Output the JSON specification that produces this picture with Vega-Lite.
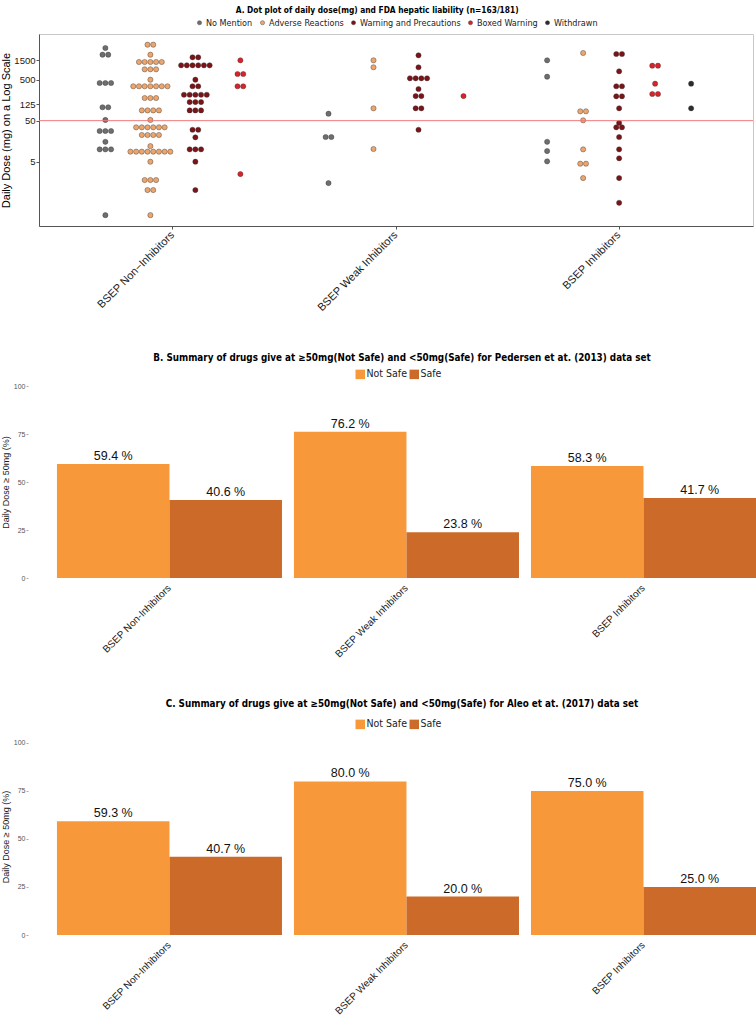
{
  "$schema": "https://vega.github.io/schema/vega-lite/v6.json",
  "padding": {"left": 0, "top": 5, "right": 0, "bottom": 0},
  "background": "white",
  "config": {
    "font": "Liberation Sans",
    "view": {"stroke": null},
    "axis": {"grid": false},
    "legend": {"layout": {"top": {"anchor": "middle"}}}
  },
  "columns": 1,
  "bounds": "flush",
  "spacing": 160,
  "resolve": {"scale": {"color": "independent", "xOffset": "independent", "x": "independent", "y": "independent"}},
  "datasets": {
    "dots": [
      {"bsep": "BSEP Non−Inhibitors", "liability": "No Mention", "dose": 2944},
      {"bsep": "BSEP Non−Inhibitors", "liability": "No Mention", "dose": 2020},
      {"bsep": "BSEP Non−Inhibitors", "liability": "No Mention", "dose": 2020},
      {"bsep": "BSEP Non−Inhibitors", "liability": "No Mention", "dose": 413},
      {"bsep": "BSEP Non−Inhibitors", "liability": "No Mention", "dose": 413},
      {"bsep": "BSEP Non−Inhibitors", "liability": "No Mention", "dose": 413},
      {"bsep": "BSEP Non−Inhibitors", "liability": "No Mention", "dose": 106},
      {"bsep": "BSEP Non−Inhibitors", "liability": "No Mention", "dose": 106},
      {"bsep": "BSEP Non−Inhibitors", "liability": "No Mention", "dose": 52},
      {"bsep": "BSEP Non−Inhibitors", "liability": "No Mention", "dose": 28},
      {"bsep": "BSEP Non−Inhibitors", "liability": "No Mention", "dose": 28},
      {"bsep": "BSEP Non−Inhibitors", "liability": "No Mention", "dose": 28},
      {"bsep": "BSEP Non−Inhibitors", "liability": "No Mention", "dose": 15.3},
      {"bsep": "BSEP Non−Inhibitors", "liability": "No Mention", "dose": 10},
      {"bsep": "BSEP Non−Inhibitors", "liability": "No Mention", "dose": 10},
      {"bsep": "BSEP Non−Inhibitors", "liability": "No Mention", "dose": 10},
      {"bsep": "BSEP Non−Inhibitors", "liability": "No Mention", "dose": 0.25},
      {"bsep": "BSEP Non−Inhibitors", "liability": "Adverse Reactions", "dose": 3540},
      {"bsep": "BSEP Non−Inhibitors", "liability": "Adverse Reactions", "dose": 3540},
      {"bsep": "BSEP Non−Inhibitors", "liability": "Adverse Reactions", "dose": 2020},
      {"bsep": "BSEP Non−Inhibitors", "liability": "Adverse Reactions", "dose": 1343},
      {"bsep": "BSEP Non−Inhibitors", "liability": "Adverse Reactions", "dose": 1343},
      {"bsep": "BSEP Non−Inhibitors", "liability": "Adverse Reactions", "dose": 1343},
      {"bsep": "BSEP Non−Inhibitors", "liability": "Adverse Reactions", "dose": 1343},
      {"bsep": "BSEP Non−Inhibitors", "liability": "Adverse Reactions", "dose": 1343},
      {"bsep": "BSEP Non−Inhibitors", "liability": "Adverse Reactions", "dose": 891},
      {"bsep": "BSEP Non−Inhibitors", "liability": "Adverse Reactions", "dose": 891},
      {"bsep": "BSEP Non−Inhibitors", "liability": "Adverse Reactions", "dose": 891},
      {"bsep": "BSEP Non−Inhibitors", "liability": "Adverse Reactions", "dose": 497},
      {"bsep": "BSEP Non−Inhibitors", "liability": "Adverse Reactions", "dose": 344},
      {"bsep": "BSEP Non−Inhibitors", "liability": "Adverse Reactions", "dose": 344},
      {"bsep": "BSEP Non−Inhibitors", "liability": "Adverse Reactions", "dose": 344},
      {"bsep": "BSEP Non−Inhibitors", "liability": "Adverse Reactions", "dose": 344},
      {"bsep": "BSEP Non−Inhibitors", "liability": "Adverse Reactions", "dose": 344},
      {"bsep": "BSEP Non−Inhibitors", "liability": "Adverse Reactions", "dose": 344},
      {"bsep": "BSEP Non−Inhibitors", "liability": "Adverse Reactions", "dose": 344},
      {"bsep": "BSEP Non−Inhibitors", "liability": "Adverse Reactions", "dose": 178},
      {"bsep": "BSEP Non−Inhibitors", "liability": "Adverse Reactions", "dose": 178},
      {"bsep": "BSEP Non−Inhibitors", "liability": "Adverse Reactions", "dose": 178},
      {"bsep": "BSEP Non−Inhibitors", "liability": "Adverse Reactions", "dose": 89},
      {"bsep": "BSEP Non−Inhibitors", "liability": "Adverse Reactions", "dose": 89},
      {"bsep": "BSEP Non−Inhibitors", "liability": "Adverse Reactions", "dose": 89},
      {"bsep": "BSEP Non−Inhibitors", "liability": "Adverse Reactions", "dose": 89},
      {"bsep": "BSEP Non−Inhibitors", "liability": "Adverse Reactions", "dose": 52},
      {"bsep": "BSEP Non−Inhibitors", "liability": "Adverse Reactions", "dose": 34.4},
      {"bsep": "BSEP Non−Inhibitors", "liability": "Adverse Reactions", "dose": 34.4},
      {"bsep": "BSEP Non−Inhibitors", "liability": "Adverse Reactions", "dose": 34.4},
      {"bsep": "BSEP Non−Inhibitors", "liability": "Adverse Reactions", "dose": 34.4},
      {"bsep": "BSEP Non−Inhibitors", "liability": "Adverse Reactions", "dose": 34.4},
      {"bsep": "BSEP Non−Inhibitors", "liability": "Adverse Reactions", "dose": 34.4},
      {"bsep": "BSEP Non−Inhibitors", "liability": "Adverse Reactions", "dose": 22.4},
      {"bsep": "BSEP Non−Inhibitors", "liability": "Adverse Reactions", "dose": 22.4},
      {"bsep": "BSEP Non−Inhibitors", "liability": "Adverse Reactions", "dose": 22.4},
      {"bsep": "BSEP Non−Inhibitors", "liability": "Adverse Reactions", "dose": 22.4},
      {"bsep": "BSEP Non−Inhibitors", "liability": "Adverse Reactions", "dose": 12},
      {"bsep": "BSEP Non−Inhibitors", "liability": "Adverse Reactions", "dose": 8.8},
      {"bsep": "BSEP Non−Inhibitors", "liability": "Adverse Reactions", "dose": 8.8},
      {"bsep": "BSEP Non−Inhibitors", "liability": "Adverse Reactions", "dose": 8.8},
      {"bsep": "BSEP Non−Inhibitors", "liability": "Adverse Reactions", "dose": 8.8},
      {"bsep": "BSEP Non−Inhibitors", "liability": "Adverse Reactions", "dose": 8.8},
      {"bsep": "BSEP Non−Inhibitors", "liability": "Adverse Reactions", "dose": 8.8},
      {"bsep": "BSEP Non−Inhibitors", "liability": "Adverse Reactions", "dose": 8.8},
      {"bsep": "BSEP Non−Inhibitors", "liability": "Adverse Reactions", "dose": 8.8},
      {"bsep": "BSEP Non−Inhibitors", "liability": "Adverse Reactions", "dose": 5},
      {"bsep": "BSEP Non−Inhibitors", "liability": "Adverse Reactions", "dose": 1.79},
      {"bsep": "BSEP Non−Inhibitors", "liability": "Adverse Reactions", "dose": 1.79},
      {"bsep": "BSEP Non−Inhibitors", "liability": "Adverse Reactions", "dose": 1.79},
      {"bsep": "BSEP Non−Inhibitors", "liability": "Adverse Reactions", "dose": 1.02},
      {"bsep": "BSEP Non−Inhibitors", "liability": "Adverse Reactions", "dose": 1.02},
      {"bsep": "BSEP Non−Inhibitors", "liability": "Adverse Reactions", "dose": 0.25},
      {"bsep": "BSEP Non−Inhibitors", "liability": "Warning and Precautions", "dose": 1747},
      {"bsep": "BSEP Non−Inhibitors", "liability": "Warning and Precautions", "dose": 1747},
      {"bsep": "BSEP Non−Inhibitors", "liability": "Warning and Precautions", "dose": 1115},
      {"bsep": "BSEP Non−Inhibitors", "liability": "Warning and Precautions", "dose": 1115},
      {"bsep": "BSEP Non−Inhibitors", "liability": "Warning and Precautions", "dose": 1115},
      {"bsep": "BSEP Non−Inhibitors", "liability": "Warning and Precautions", "dose": 1115},
      {"bsep": "BSEP Non−Inhibitors", "liability": "Warning and Precautions", "dose": 1115},
      {"bsep": "BSEP Non−Inhibitors", "liability": "Warning and Precautions", "dose": 1115},
      {"bsep": "BSEP Non−Inhibitors", "liability": "Warning and Precautions", "dose": 497},
      {"bsep": "BSEP Non−Inhibitors", "liability": "Warning and Precautions", "dose": 344},
      {"bsep": "BSEP Non−Inhibitors", "liability": "Warning and Precautions", "dose": 344},
      {"bsep": "BSEP Non−Inhibitors", "liability": "Warning and Precautions", "dose": 214},
      {"bsep": "BSEP Non−Inhibitors", "liability": "Warning and Precautions", "dose": 214},
      {"bsep": "BSEP Non−Inhibitors", "liability": "Warning and Precautions", "dose": 214},
      {"bsep": "BSEP Non−Inhibitors", "liability": "Warning and Precautions", "dose": 214},
      {"bsep": "BSEP Non−Inhibitors", "liability": "Warning and Precautions", "dose": 214},
      {"bsep": "BSEP Non−Inhibitors", "liability": "Warning and Precautions", "dose": 142},
      {"bsep": "BSEP Non−Inhibitors", "liability": "Warning and Precautions", "dose": 142},
      {"bsep": "BSEP Non−Inhibitors", "liability": "Warning and Precautions", "dose": 142},
      {"bsep": "BSEP Non−Inhibitors", "liability": "Warning and Precautions", "dose": 89},
      {"bsep": "BSEP Non−Inhibitors", "liability": "Warning and Precautions", "dose": 89},
      {"bsep": "BSEP Non−Inhibitors", "liability": "Warning and Precautions", "dose": 89},
      {"bsep": "BSEP Non−Inhibitors", "liability": "Warning and Precautions", "dose": 30},
      {"bsep": "BSEP Non−Inhibitors", "liability": "Warning and Precautions", "dose": 30},
      {"bsep": "BSEP Non−Inhibitors", "liability": "Warning and Precautions", "dose": 19.6},
      {"bsep": "BSEP Non−Inhibitors", "liability": "Warning and Precautions", "dose": 10},
      {"bsep": "BSEP Non−Inhibitors", "liability": "Warning and Precautions", "dose": 10},
      {"bsep": "BSEP Non−Inhibitors", "liability": "Warning and Precautions", "dose": 10},
      {"bsep": "BSEP Non−Inhibitors", "liability": "Warning and Precautions", "dose": 5},
      {"bsep": "BSEP Non−Inhibitors", "liability": "Warning and Precautions", "dose": 1.02},
      {"bsep": "BSEP Non−Inhibitors", "liability": "Boxed Warning", "dose": 1476},
      {"bsep": "BSEP Non−Inhibitors", "liability": "Boxed Warning", "dose": 685},
      {"bsep": "BSEP Non−Inhibitors", "liability": "Boxed Warning", "dose": 685},
      {"bsep": "BSEP Non−Inhibitors", "liability": "Boxed Warning", "dose": 344},
      {"bsep": "BSEP Non−Inhibitors", "liability": "Boxed Warning", "dose": 344},
      {"bsep": "BSEP Non−Inhibitors", "liability": "Boxed Warning", "dose": 2.5},
      {"bsep": "BSEP Weak Inhibitors", "liability": "No Mention", "dose": 73.8},
      {"bsep": "BSEP Weak Inhibitors", "liability": "No Mention", "dose": 20},
      {"bsep": "BSEP Weak Inhibitors", "liability": "No Mention", "dose": 20},
      {"bsep": "BSEP Weak Inhibitors", "liability": "No Mention", "dose": 1.51},
      {"bsep": "BSEP Weak Inhibitors", "liability": "Adverse Reactions", "dose": 1476},
      {"bsep": "BSEP Weak Inhibitors", "liability": "Adverse Reactions", "dose": 998},
      {"bsep": "BSEP Weak Inhibitors", "liability": "Adverse Reactions", "dose": 100},
      {"bsep": "BSEP Weak Inhibitors", "liability": "Adverse Reactions", "dose": 10.2},
      {"bsep": "BSEP Weak Inhibitors", "liability": "Warning and Precautions", "dose": 1955},
      {"bsep": "BSEP Weak Inhibitors", "liability": "Warning and Precautions", "dose": 998},
      {"bsep": "BSEP Weak Inhibitors", "liability": "Warning and Precautions", "dose": 538},
      {"bsep": "BSEP Weak Inhibitors", "liability": "Warning and Precautions", "dose": 538},
      {"bsep": "BSEP Weak Inhibitors", "liability": "Warning and Precautions", "dose": 538},
      {"bsep": "BSEP Weak Inhibitors", "liability": "Warning and Precautions", "dose": 538},
      {"bsep": "BSEP Weak Inhibitors", "liability": "Warning and Precautions", "dose": 295},
      {"bsep": "BSEP Weak Inhibitors", "liability": "Warning and Precautions", "dose": 199},
      {"bsep": "BSEP Weak Inhibitors", "liability": "Warning and Precautions", "dose": 199},
      {"bsep": "BSEP Weak Inhibitors", "liability": "Warning and Precautions", "dose": 100},
      {"bsep": "BSEP Weak Inhibitors", "liability": "Warning and Precautions", "dose": 100},
      {"bsep": "BSEP Weak Inhibitors", "liability": "Warning and Precautions", "dose": 30},
      {"bsep": "BSEP Weak Inhibitors", "liability": "Boxed Warning", "dose": 199},
      {"bsep": "BSEP Inhibitors", "liability": "No Mention", "dose": 1476},
      {"bsep": "BSEP Inhibitors", "liability": "No Mention", "dose": 588},
      {"bsep": "BSEP Inhibitors", "liability": "No Mention", "dose": 15.3},
      {"bsep": "BSEP Inhibitors", "liability": "No Mention", "dose": 9.1},
      {"bsep": "BSEP Inhibitors", "liability": "No Mention", "dose": 5.1},
      {"bsep": "BSEP Inhibitors", "liability": "Adverse Reactions", "dose": 2223},
      {"bsep": "BSEP Inhibitors", "liability": "Adverse Reactions", "dose": 84.5},
      {"bsep": "BSEP Inhibitors", "liability": "Adverse Reactions", "dose": 84.5},
      {"bsep": "BSEP Inhibitors", "liability": "Adverse Reactions", "dose": 51},
      {"bsep": "BSEP Inhibitors", "liability": "Adverse Reactions", "dose": 10},
      {"bsep": "BSEP Inhibitors", "liability": "Adverse Reactions", "dose": 4.47},
      {"bsep": "BSEP Inhibitors", "liability": "Adverse Reactions", "dose": 4.47},
      {"bsep": "BSEP Inhibitors", "liability": "Adverse Reactions", "dose": 2},
      {"bsep": "BSEP Inhibitors", "liability": "Warning and Precautions", "dose": 2102},
      {"bsep": "BSEP Inhibitors", "liability": "Warning and Precautions", "dose": 2102},
      {"bsep": "BSEP Inhibitors", "liability": "Warning and Precautions", "dose": 797},
      {"bsep": "BSEP Inhibitors", "liability": "Warning and Precautions", "dose": 344},
      {"bsep": "BSEP Inhibitors", "liability": "Warning and Precautions", "dose": 344},
      {"bsep": "BSEP Inhibitors", "liability": "Warning and Precautions", "dose": 196},
      {"bsep": "BSEP Inhibitors", "liability": "Warning and Precautions", "dose": 196},
      {"bsep": "BSEP Inhibitors", "liability": "Warning and Precautions", "dose": 100},
      {"bsep": "BSEP Inhibitors", "liability": "Warning and Precautions", "dose": 44},
      {"bsep": "BSEP Inhibitors", "liability": "Warning and Precautions", "dose": 34.4},
      {"bsep": "BSEP Inhibitors", "liability": "Warning and Precautions", "dose": 34.4},
      {"bsep": "BSEP Inhibitors", "liability": "Warning and Precautions", "dose": 20},
      {"bsep": "BSEP Inhibitors", "liability": "Warning and Precautions", "dose": 10},
      {"bsep": "BSEP Inhibitors", "liability": "Warning and Precautions", "dose": 6.05},
      {"bsep": "BSEP Inhibitors", "liability": "Warning and Precautions", "dose": 2},
      {"bsep": "BSEP Inhibitors", "liability": "Warning and Precautions", "dose": 0.5},
      {"bsep": "BSEP Inhibitors", "liability": "Boxed Warning", "dose": 1091},
      {"bsep": "BSEP Inhibitors", "liability": "Boxed Warning", "dose": 1091},
      {"bsep": "BSEP Inhibitors", "liability": "Boxed Warning", "dose": 397},
      {"bsep": "BSEP Inhibitors", "liability": "Boxed Warning", "dose": 223},
      {"bsep": "BSEP Inhibitors", "liability": "Boxed Warning", "dose": 223},
      {"bsep": "BSEP Inhibitors", "liability": "Withdrawn", "dose": 397},
      {"bsep": "BSEP Inhibitors", "liability": "Withdrawn", "dose": 100}
    ],
    "pedersen": [
      {"bsep": "BSEP Non-Inhibitors", "status": "Not Safe", "pct": 59.4},
      {"bsep": "BSEP Non-Inhibitors", "status": "Safe", "pct": 40.6},
      {"bsep": "BSEP Weak Inhibitors", "status": "Not Safe", "pct": 76.2},
      {"bsep": "BSEP Weak Inhibitors", "status": "Safe", "pct": 23.8},
      {"bsep": "BSEP Inhibitors", "status": "Not Safe", "pct": 58.3},
      {"bsep": "BSEP Inhibitors", "status": "Safe", "pct": 41.7}
    ],
    "aleo": [
      {"bsep": "BSEP Non-Inhibitors", "status": "Not Safe", "pct": 59.3},
      {"bsep": "BSEP Non-Inhibitors", "status": "Safe", "pct": 40.7},
      {"bsep": "BSEP Weak Inhibitors", "status": "Not Safe", "pct": 80.0},
      {"bsep": "BSEP Weak Inhibitors", "status": "Safe", "pct": 20.0},
      {"bsep": "BSEP Inhibitors", "status": "Not Safe", "pct": 75.0},
      {"bsep": "BSEP Inhibitors", "status": "Safe", "pct": 25.0}
    ]
  },
  "concat": [
    {
      "width": 714,
      "height": 192,
      "view": {"stroke": "#c8c8c8", "strokeWidth": 1},
      "title": {"text": "A. Dot plot of daily dose(mg) and FDA hepatic liability (n=163/181)", "font": "Liberation Sans Narrow, DejaVu Sans Condensed, sans-serif", "fontSize": 8.3, "fontWeight": "bold", "color": "#000", "anchor": "middle", "frame": "bounds", "offset": 4},
      "layer": [
        {
          "data": {"name": "dots"},
          "transform": [
            {"calculate": "indexof(['No Mention','Adverse Reactions','Warning and Precautions','Boxed Warning','Withdrawn'], datum.liability)", "as": "lidx"},
            {"window": [{"op": "dense_rank", "as": "gi"}], "groupby": ["bsep"], "sort": [{"field": "lidx"}]},
            {"joinaggregate": [{"op": "max", "field": "gi", "as": "ng"}], "groupby": ["bsep"]},
            {"window": [{"op": "row_number", "as": "ri"}, {"op": "count", "as": "rn"}], "groupby": ["bsep", "liability", "dose"], "frame": [null, null]},
            {"calculate": "(datum.gi - (datum.ng + 1) / 2) * 180 / datum.ng + (datum.ri - (datum.rn + 1) / 2) * 5.7", "as": "off"}
          ],
          "mark": {"type": "circle", "size": 27, "opacity": 1, "stroke": "#333333", "strokeWidth": 0.4},
          "encoding": {
            "x": {"field": "bsep", "type": "nominal", "sort": ["BSEP Non−Inhibitors", "BSEP Weak Inhibitors", "BSEP Inhibitors"],
                  "scale": {"paddingInner": 0, "paddingOuter": 0.1},
                  "axis": {"title": null, "labelAngle": -45, "labelBaseline": "middle", "labelFontSize": 11, "labelColor": "#1a1a1a", "tickSize": 3, "tickColor": "#555", "domainColor": "#555", "labelPadding": 4}},
            "xOffset": {"field": "off", "type": "quantitative", "scale": {"domain": [-111.5625, 111.5625], "range": [0, 223.125]}},
            "y": {"field": "dose", "type": "quantitative",
                  "scale": {"type": "log", "domain": [0.136, 6450], "nice": false},
                  "axis": {"title": "Daily Dose (mg) on a Log Scale", "values": [5, 50, 125, 500, 1500], "format": "d", "labelFontSize": 9.5, "labelColor": "#1a1a1a", "tickSize": 3, "tickColor": "#555", "domainColor": "#555", "labelPadding": 1, "titleFontSize": 11, "titleFontWeight": "normal", "titleColor": "#000", "titlePadding": 2}},
            "color": {"field": "liability", "type": "nominal",
                      "scale": {"domain": ["No Mention", "Adverse Reactions", "Warning and Precautions", "Boxed Warning", "Withdrawn"], "range": ["#6e6e6e", "#eea56c", "#7b1317", "#da2229", "#2c2c2c"]},
                      "legend": {"orient": "top", "direction": "horizontal", "title": null, "labelFont": "Liberation Sans Narrow, DejaVu Sans Condensed, sans-serif", "labelFontSize": 9, "labelColor": "#222", "symbolType": "circle", "symbolSize": 18, "symbolOpacity": 1, "symbolStrokeColor": "#333", "symbolStrokeWidth": 0.4, "columnPadding": 5, "labelOffset": 2, "offset": 6}}
          }
        },
        {
          "data": {"values": [{}]},
          "mark": {"type": "rule", "color": "#f07a7a", "strokeWidth": 1},
          "encoding": {"y": {"datum": 50, "type": "quantitative"}}
        }
      ]
    },
    {
      "width": 718,
      "height": 192,
      "title": {"text": "B. Summary of drugs give at ≥50mg(Not Safe) and <50mg(Safe) for Pedersen et at. (2013) data set", "font": "Liberation Sans Narrow, DejaVu Sans Condensed, sans-serif", "fontSize": 9.8, "fontWeight": "bold", "color": "#000", "anchor": "middle", "frame": "group", "dx": 4, "offset": 6},
      "data": {"name": "pedersen"},
      "transform": [{"calculate": "format(datum.pct, '.1f') + ' %'", "as": "label"}],
      "encoding": {
        "x": {"field": "bsep", "type": "nominal", "sort": ["BSEP Non-Inhibitors", "BSEP Weak Inhibitors", "BSEP Inhibitors"],
              "scale": {"paddingInner": 0.0506, "paddingOuter": 0.04, "align": 0.947},
              "axis": {"title": null, "labelAngle": -45, "labelBaseline": "middle", "labelFontSize": 10, "labelColor": "#1a1a1a", "ticks": false, "domain": false, "labelPadding": 8}},
        "xOffset": {"field": "status", "type": "nominal", "sort": ["Not Safe", "Safe"], "scale": {"paddingInner": 0, "paddingOuter": 0}},
        "y": {"field": "pct", "type": "quantitative", "scale": {"domain": [0, 100], "nice": false},
              "axis": {"title": "Daily Dose ≥ 50mg (%)", "values": [0, 25, 50, 75, 100], "offset": 11, "labelFontSize": 7, "labelColor": "#555", "tickSize": 2, "tickColor": "#aaa", "domain": false, "labelPadding": 1, "titleFontSize": 9, "titleFontWeight": "normal", "titleColor": "#1a1a1a", "titlePadding": 3}}
      },
      "layer": [
        {
          "mark": {"type": "bar"},
          "encoding": {
            "color": {"field": "status", "type": "nominal", "scale": {"domain": ["Not Safe", "Safe"], "range": ["#f7993b", "#cb6a29"]},
                      "legend": {"orient": "top", "direction": "horizontal", "title": null, "labelFont": "Liberation Sans Narrow, DejaVu Sans Condensed, sans-serif", "labelFontSize": 10.5, "labelColor": "#222", "symbolType": "square", "symbolSize": 90, "symbolOpacity": 1, "symbolStrokeWidth": 0, "columnPadding": 2, "labelOffset": 1, "offset": 6}}
          }
        },
        {
          "mark": {"type": "text", "baseline": "bottom", "dy": -1, "fontSize": 12.5, "color": "#111"},
          "encoding": {"text": {"field": "label", "type": "nominal"}}
        }
      ]
    },
    {
      "width": 718,
      "height": 197,
      "title": {"text": "C. Summary of drugs give at ≥50mg(Not Safe) and <50mg(Safe) for Aleo et at. (2017) data set", "font": "Liberation Sans Narrow, DejaVu Sans Condensed, sans-serif", "fontSize": 9.8, "fontWeight": "bold", "color": "#000", "anchor": "middle", "frame": "group", "dx": 4, "offset": 10},
      "data": {"name": "aleo"},
      "transform": [{"calculate": "format(datum.pct, '.1f') + ' %'", "as": "label"}],
      "encoding": {
        "x": {"field": "bsep", "type": "nominal", "sort": ["BSEP Non-Inhibitors", "BSEP Weak Inhibitors", "BSEP Inhibitors"],
              "scale": {"paddingInner": 0.0506, "paddingOuter": 0.04, "align": 0.947},
              "axis": {"title": null, "labelAngle": -45, "labelBaseline": "middle", "labelFontSize": 10, "labelColor": "#1a1a1a", "ticks": false, "domain": false, "labelPadding": 8}},
        "xOffset": {"field": "status", "type": "nominal", "sort": ["Not Safe", "Safe"], "scale": {"paddingInner": 0, "paddingOuter": 0}},
        "y": {"field": "pct", "type": "quantitative", "scale": {"domain": [0, 102.6], "nice": false},
              "axis": {"title": "Daily Dose ≥ 50mg (%)", "values": [0, 25, 50, 75, 100], "offset": 11, "labelFontSize": 7, "labelColor": "#555", "tickSize": 2, "tickColor": "#aaa", "domain": false, "labelPadding": 1, "titleFontSize": 9, "titleFontWeight": "normal", "titleColor": "#1a1a1a", "titlePadding": 3}}
      },
      "layer": [
        {
          "mark": {"type": "bar"},
          "encoding": {
            "color": {"field": "status", "type": "nominal", "scale": {"domain": ["Not Safe", "Safe"], "range": ["#f7993b", "#cb6a29"]},
                      "legend": {"orient": "top", "direction": "horizontal", "title": null, "labelFont": "Liberation Sans Narrow, DejaVu Sans Condensed, sans-serif", "labelFontSize": 10.5, "labelColor": "#222", "symbolType": "square", "symbolSize": 90, "symbolOpacity": 1, "symbolStrokeWidth": 0, "columnPadding": 2, "labelOffset": 1, "offset": 8}}
          }
        },
        {
          "mark": {"type": "text", "baseline": "bottom", "dy": -1, "fontSize": 12.5, "color": "#111"},
          "encoding": {"text": {"field": "label", "type": "nominal"}}
        }
      ]
    }
  ]
}
